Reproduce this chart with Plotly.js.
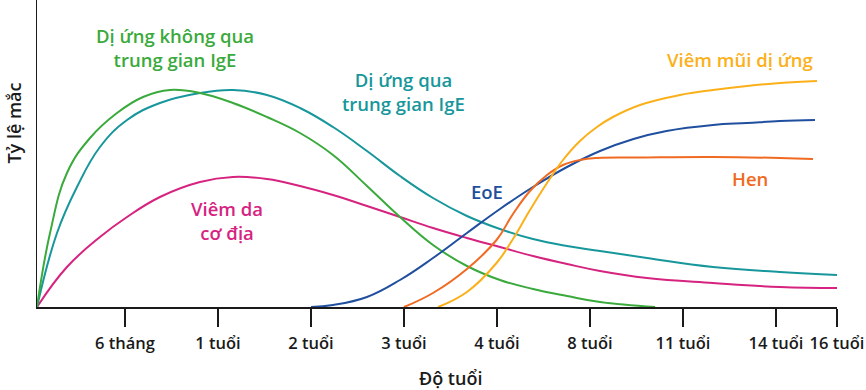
<!DOCTYPE html>
<html><head><meta charset="utf-8">
<script src="https://cdn.plot.ly/plotly-3.0.1.min.js"></script>
<style>html,body{margin:0;padding:0;background:#fff;}</style>
</head><body><div id="chart" style="width:866px;height:390px;"></div>
<script>
// Age axis: index positions of the age ticks
const tickVals = [1, 2, 3, 4, 5, 6, 7, 8, 8.656];
const tickText = ["6 tháng", "1 tuổi", "2 tuổi", "3 tuổi", "4 tuổi", "8 tuổi", "11 tuổi", "14 tuổi", "16 tuổi"];

// Dị ứng không qua trung gian IgE (green)
const greenX = [0.054, 0.194, 0.376, 0.624, 0.914, 1.194, 1.484, 1.806, 2.161, 2.527, 2.882, 3.237, 3.602, 3.957, 4.312, 4.677, 5.032, 5.387, 5.753, 6.108, 6.70];
const greenY = [0, 74, 134, 169, 194, 210, 217, 214, 204, 190, 174, 152, 121, 90, 62, 41, 27, 18, 11, 5, 0];

// Dị ứng qua trung gian IgE (teal)
const tealX = [0.054, 0.269, 0.484, 0.731, 1.022, 1.376, 1.806, 2.161, 2.527, 2.882, 3.237, 3.602, 3.957, 4.312, 4.677, 5.032, 5.387, 5.753, 6.108, 6.613, 7.323, 8.043, 8.656];
const tealY = [0, 74, 120, 160, 187, 204, 214, 217, 212, 199, 180, 156, 131, 109, 91, 78, 68, 61, 56, 49, 40, 35, 32];

// Viêm da cơ địa (magenta)
const pinkX = [0.054, 0.376, 0.731, 1.022, 1.376, 1.806, 2.161, 2.527, 2.882, 3.237, 3.602, 3.957, 4.312, 4.677, 5.032, 5.387, 5.753, 6.108, 6.613, 7.323, 8.043, 8.656];
const pinkY = [0, 40, 70, 90, 110, 125, 130, 128, 121, 112, 101, 90, 79, 69, 60, 51, 43, 36, 29, 24, 20, 19];

// EoE (blue)
const blueX = [3.0, 3.237, 3.602, 3.957, 4.312, 4.677, 5.032, 5.387, 5.753, 6.108, 6.468, 6.823, 7.323, 7.688, 8.043, 8.419];
const blueY = [0, 2, 10, 27, 49, 74, 98, 120, 140, 156, 168, 176, 182, 184, 186, 187];

// Hen (orange)
const henX = [4.0, 4.312, 4.677, 4.995, 5.172, 5.355, 5.538, 5.710, 5.892, 6.075, 6.538, 7.323, 8.043, 8.398];
const henY = [0, 14, 38, 67, 93, 116, 132, 142, 147, 149, 149.5, 150, 149, 148];

// Viêm mũi dị ứng (yellow)
const rhinX = [4.366, 4.677, 4.995, 5.172, 5.355, 5.538, 5.710, 5.892, 6.075, 6.247, 6.538, 6.968, 7.323, 7.688, 8.043, 8.441];
const rhinY = [0, 15, 44, 68, 97, 124, 147, 166, 180, 190, 202, 212, 217, 221, 224, 226];

const C = {green:"#3aaa3c", teal:"#17979b", pink:"#d6237f", blue:"#1f4f9e", orange:"#f06a22", yellow:"#fbb01a"};
const FONT = "'Open Sans', Lato, sans-serif";

function tr(x, y, color) {
  return {x: x, y: y, type: "scatter", mode: "lines", hoverinfo: "skip",
    line: {color: color, width: 2, shape: "spline", smoothing: 1.2}, showlegend: false};
}
const data = [
  tr(pinkX, pinkY, C.pink),
  tr(tealX, tealY, C.teal),
  tr(greenX, greenY, C.green),
  tr(blueX, blueY, C.blue),
  tr(henX, henY, C.orange),
  tr(rhinX, rhinY, C.yellow)
];

function lab(text, x, y, color) {
  return {text: text, x: x, y: y, xref: "paper", yref: "paper", showarrow: false,
    xanchor: "center", yanchor: "middle", align: "center",
    font: {family: FONT, size: 18.5, color: color, weight: 600}};
}

const layout = {
  width: 866, height: 390,
  margin: {l: 37, r: 29, t: 0, b: 83},
  paper_bgcolor: "#fff", plot_bgcolor: "#fff",
  xaxis: {
    range: [0.054, 8.656], tickmode: "array", tickvals: tickVals, ticktext: tickText,
    showline: true, linecolor: "#1a1a1a", linewidth: 1.5, showgrid: false, zeroline: false,
    ticks: "outside", ticklen: 18, tickwidth: 1.5, tickcolor: "#1a1a1a", ticklabelstandoff: 3,
    tickfont: {family: FONT, size: 16.5, color: "#1a1a1a", weight: 600}, fixedrange: true
  },
  yaxis: {
    range: [0, 307], showline: true, linecolor: "#1a1a1a", linewidth: 1.5,
    showgrid: false, zeroline: false, showticklabels: false, ticks: "", fixedrange: true
  },
  annotations: [
    lab("Dị ứng không qua<br>trung gian IgE", 0.172, 0.845, C.green),
    lab("Dị ứng qua<br>trung gian IgE", 0.4575, 0.702, C.teal),
    lab("Viêm da<br>cơ địa", 0.2375, 0.283, C.pink),
    lab("EoE", 0.5625, 0.375, C.blue),
    lab("Hen", 0.891, 0.42, C.orange),
    lab("Viêm mũi dị ứng", 0.879, 0.805, C.yellow),
    {text: "Tỷ lệ mắc", x: -0.029, y: 0.6, xref: "paper", yref: "paper", showarrow: false,
     textangle: -90, xanchor: "center", yanchor: "middle",
     font: {family: FONT, size: 18, color: "#1a1a1a", weight: 600}},
    {text: "Độ tuổi", x: 0.5175, y: -0.23, xref: "paper", yref: "paper", showarrow: false,
     xanchor: "center", yanchor: "middle",
     font: {family: FONT, size: 18, color: "#1a1a1a", weight: 600}}
  ]
};
Plotly.newPlot("chart", data, layout, {displayModeBar: false, staticPlot: true});
</script></body></html>
